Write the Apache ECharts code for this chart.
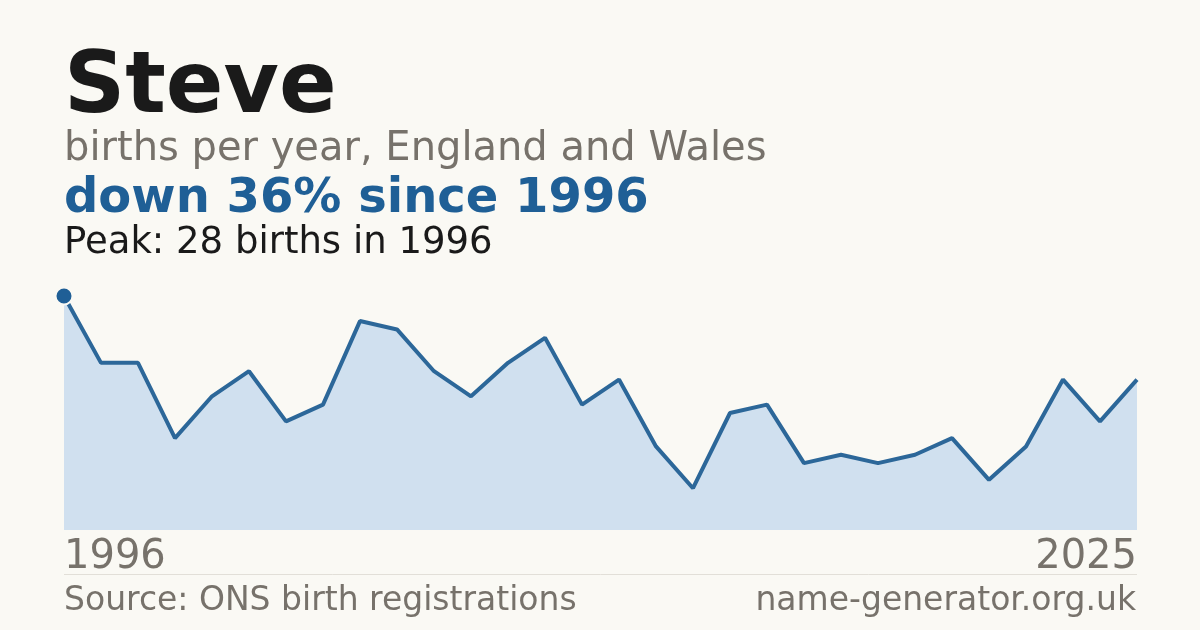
<!DOCTYPE html>
<html>
<head>
<meta charset="utf-8">
<title>Steve births</title>
<script src="https://cdn.jsdelivr.net/npm/echarts@6/dist/echarts.min.js"></script>
<style>
  html, body { margin: 0; padding: 0; background: #faf9f4; }
  #chart { width: 1200px; height: 630px; }
</style>
</head>
<body>
<div id="chart"></div>
<script>
// births per year, 1996..2025
var years = [];
for (var y = 1996; y <= 2025; y++) years.push(String(y));
var births = [28, 20, 20, 11, 16, 19, 13, 15, 25, 24,
              19, 16, 20, 23, 15, 18, 10, 5, 14, 15,
              8, 9, 8, 9, 11, 6, 10, 18, 13, 18];
var yMax = 28;

var font = 'DejaVu Sans';
var chart = echarts.init(document.getElementById('chart'));

var seriesData = births.map(function (v, i) {
  if (i === 0) {
    return {
      value: v,
      symbol: 'circle',
      symbolSize: 17,
      itemStyle: { color: '#1f5f96', borderColor: '#faf9f4', borderWidth: 2 }
    };
  }
  return v;
});

var option = {
  backgroundColor: '#faf9f4',
  animation: false,
  grid: { left: 64, right: 63, top: 296, bottom: 100 },
  xAxis: {
    type: 'category',
    data: years,
    boundaryGap: false,
    axisLine: { show: false },
    axisTick: { show: false },
    axisLabel: {
      interval: function (i) { return i === 0 || i === years.length - 1; },
      fontFamily: font,
      fontSize: 40,
      color: '#77726b',
      margin: 8,
      alignMinLabel: 'left',
      alignMaxLabel: 'right'
    }
  },
  yAxis: {
    type: 'value',
    min: 0,
    max: yMax,
    show: false,
    splitLine: { show: false }
  },
  series: [{
    type: 'line',
    data: seriesData,
    symbol: 'none',
    showSymbol: true,
    lineStyle: { color: '#2c6799', width: 4 },
    areaStyle: { color: '#d0e0ef', opacity: 1 },
    z: 3
  }],
  graphic: [
    { type: 'text', left: 64, top: 47,
      style: { text: 'Steve', font: 'bold 85px ' + font, fill: '#1a1a1a' } },
    { type: 'text', left: 64, top: 130,
      style: { text: 'births per year, England and Wales', font: '40px ' + font, fill: '#77726b' } },
    { type: 'text', left: 64, top: 176,
      style: { text: 'down 36% since 1996', font: 'bold 48px ' + font, fill: '#1f5f96' } },
    { type: 'text', left: 64, top: 225,
      style: { text: 'Peak: 28 births in 1996', font: '37px ' + font, fill: '#1a1a1a' } },
    { type: 'line', shape: { x1: 64, y1: 574.5, x2: 1137, y2: 574.5 },
      style: { stroke: '#e2dfd8', lineWidth: 1 } },
    { type: 'text', left: 64, top: 585,
      style: { text: 'Source: ONS birth registrations', font: '33px ' + font, fill: '#77726b' } },
    { type: 'text', right: 64, top: 585,
      style: { text: 'name-generator.org.uk', font: '33px ' + font, fill: '#77726b' } }
  ]
};

chart.setOption(option);
</script>
</body>
</html>
